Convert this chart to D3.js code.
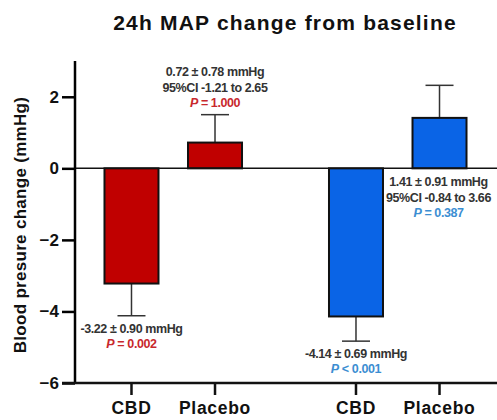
<!DOCTYPE html>
<html>
<head>
<meta charset="utf-8">
<script src="https://cdn.jsdelivr.net/npm/d3@7"></script>
<style>
  body { margin: 0; background: #fff; }
  svg { display: block; font-family: "Liberation Sans", Arial, sans-serif; }
</style>
</head>
<body>
<svg id="chart" width="497" height="420"></svg>
<script>
// data
const studies = ["study1", "study2"];
const treatments = ["CBD", "Placebo"];
const means = [[-3.22, 0.72], [-4.14, 1.41]];
const sems = [[0.90, 0.78], [0.69, 0.91]];
const barColors = ["#c00000", "#0a64e6"];
const pColors = ["#c8282d", "#3c8ed2"];
const yTicks = [-6, -4, -2, 0, 2];
const statLines = [
  [["-3.22 \u00b1 0.90 mmHg"], ["0.72 \u00b1 0.78 mmHg", "95%CI -1.21 to 2.65"]],
  [["-4.14 \u00b1 0.69 mmHg"], ["1.41 \u00b1 0.91 mmHg", "95%CI -0.84 to 3.66"]]
];
const pLabels = [["= 0.002", "= 1.000"], ["< 0.001", "= 0.387"]];

const svg = d3.select("#chart");
const axisX = 75, bottomY = 383, topY = 61;

const y = d3.scaleLinear().domain([-6, 3]).range([bottomY, topY]);
const outer = d3.scaleBand().domain(studies).range([61, 510]);
const inner = d3.scalePoint().domain(treatments).range([0, outer.bandwidth()]).padding(0.844);
const barW = 54;
const cx = (s, t) => outer(studies[s]) + inner(treatments[t]);

// title
svg.append("text")
  .attr("x", 285).attr("y", 30)
  .attr("text-anchor", "middle")
  .style("font-size", "21px").style("font-weight", "bold").style("letter-spacing", "1.2px")
  .attr("fill", "#111")
  .text("24h MAP change from baseline");

// y label
svg.append("text")
  .attr("transform", "translate(26,225) rotate(-90)")
  .attr("text-anchor", "middle")
  .style("font-size", "17px").style("font-weight", "bold").style("letter-spacing", "0.3px")
  .attr("fill", "#111")
  .text("Blood presure change (mmHg)");

// bars
const cells = [];
means.forEach((row, s) => row.forEach((v, t) => cells.push({ s, t, v, e: sems[s][t] })));

// error bars (drawn first, bars on top)
const err = svg.append("g").attr("stroke", "#333").attr("stroke-width", 1.5);
cells.forEach((d) => {
  const end = d.v < 0 ? d.v - d.e : d.v + d.e;
  err.append("line").attr("x1", cx(d.s, d.t)).attr("x2", cx(d.s, d.t))
    .attr("y1", y(d.v)).attr("y2", y(end));
  err.append("line").attr("x1", cx(d.s, d.t) - 14).attr("x2", cx(d.s, d.t) + 14)
    .attr("y1", y(end)).attr("y2", y(end));
});

svg.append("g").selectAll("rect").data(cells).join("rect")
  .attr("x", (d) => cx(d.s, d.t) - barW / 2)
  .attr("width", barW)
  .attr("y", (d) => y(Math.max(0, d.v)))
  .attr("height", (d) => Math.abs(y(d.v) - y(0)))
  .attr("fill", (d) => barColors[d.s])
  .attr("stroke", "#111").attr("stroke-width", 2);

// zero line
svg.append("line").attr("x1", axisX).attr("x2", 497)
  .attr("y1", y(0)).attr("y2", y(0))
  .attr("stroke", "#111").attr("stroke-width", 1.5);

// y axis
const yAxis = svg.append("g")
  .attr("transform", `translate(${axisX},0)`)
  .call(d3.axisLeft(y).tickValues(yTicks).tickSize(13).tickPadding(3).tickFormat(d3.format("d")));
yAxis.select(".domain").attr("d", `M0,${topY}V${bottomY}`).attr("stroke-width", 2.5);
yAxis.selectAll(".tick line").attr("stroke-width", 2.5);
yAxis.selectAll(".tick text").style("font-size", "17px").style("font-weight", "bold")
  .style("font-family", "Liberation Sans, Arial, sans-serif").attr("fill", "#111");

// x axis
const xAxis = svg.append("g").attr("transform", `translate(0,${bottomY})`);
xAxis.append("line").attr("x1", axisX - 13).attr("x2", 497)
  .attr("stroke", "#111").attr("stroke-width", 2.5);
cells.forEach((d) => {
  xAxis.append("line").attr("x1", cx(d.s, d.t)).attr("x2", cx(d.s, d.t))
    .attr("y1", 0).attr("y2", 12).attr("stroke", "#111").attr("stroke-width", 2.5);
  xAxis.append("text").attr("x", cx(d.s, d.t)).attr("y", 31)
    .attr("text-anchor", "middle")
    .style("font-size", "17.5px").style("font-weight", "bold").style("letter-spacing", "0.7px")
    .attr("fill", "#111")
    .text(treatments[d.t]);
});

// annotations
const ann = svg.append("g")
  .style("font-size", "12.5px").style("font-weight", "bold").style("letter-spacing", "-0.4px");
cells.forEach((d) => {
  const lines = statLines[d.s][d.t];
  const end = d.v < 0 ? d.v - d.e : d.v + d.e;
  let x0 = cx(d.s, d.t);
  let firstY;
  if (d.v < 0) firstY = y(end) + 17;
  else if (d.s === 0) firstY = y(end) - 39;
  else { firstY = y(0) + 18; x0 = cx(d.s, d.t) - 1; }
  lines.forEach((txt, i) => {
    ann.append("text").attr("x", x0).attr("y", firstY + i * 16)
      .attr("text-anchor", "middle").attr("fill", "#333").text(txt);
  });
  const pt = ann.append("text").attr("x", x0).attr("y", firstY + lines.length * 16 - 1)
    .attr("text-anchor", "middle").attr("fill", pColors[d.s]);
  pt.append("tspan").style("font-style", "italic").text("P");
  pt.append("tspan").text(" " + pLabels[d.s][d.t]);
});
</script>
</body>
</html>
